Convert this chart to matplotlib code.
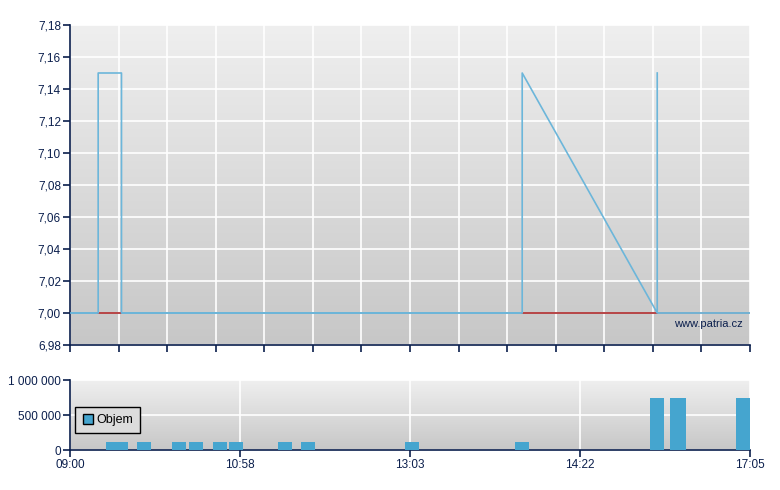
import matplotlib.pyplot as plt
import numpy as np
from matplotlib.lines import Line2D

plt.rcParams["font.family"] = ["Liberation Sans", "DejaVu Sans"]

# x is in "slot" units: 14 equal slots between 09:00 and 17:05
price_x = [0.0, 0.58, 0.58, 1.06, 1.06, 9.31, 9.31, 12.09, 12.09]
price_y = [7.00, 7.00, 7.15, 7.15, 7.00, 7.00, 7.15, 7.00, 7.15]
ref_price = 7.00
low_segments = [(0.58, 1.06), (9.31, 12.09)]

vol_x = [0.885, 1.05, 1.524, 2.244, 2.594, 3.088, 3.418, 4.426, 4.90,
         7.041, 9.306, 12.085, 12.497, 12.538, 13.856]
vol_y = [120000, 120000, 120000, 120000, 120000, 120000, 120000, 120000, 120000,
         120000, 120000, 740000, 740000, 740000, 740000]

price_ticks = [6.98, 7.00, 7.02, 7.04, 7.06, 7.08, 7.10, 7.12, 7.14, 7.16, 7.18]
vol_ticks = [0, 500000, 1000000]
vol_tick_labels = ["0", "500 000", "1 000 000"]
time_ticks = [0, 3.5, 7, 10.5, 14]
time_labels = ["09:00", "10:58", "13:03", "14:22", "17:05"]

NAVY = "#0b1f4d"
GRAD = np.linspace(0, 1, 256).reshape(-1, 1)


def style_axes(ax):
    ax.imshow(GRAD, cmap=plt.matplotlib.colors.LinearSegmentedColormap.from_list(
        "bg", ["#efefef", "#c7c7c7"]), aspect="auto", extent=(0, 1, 0, 1),
        transform=ax.transAxes, zorder=0)
    for side in ("top", "right"):
        ax.spines[side].set_visible(False)
    for side in ("left", "bottom"):
        ax.spines[side].set_color(NAVY)
        ax.spines[side].set_linewidth(1.2)
    ax.tick_params(colors=NAVY, labelcolor=NAVY, labelsize=8.5, length=5,
                   width=1.2, direction="out", pad=1.5)
    ax.set_xlim(0, 14)


fig = plt.figure(figsize=(7.8, 4.9), dpi=100)
ax = fig.add_axes([70 / 780, 1 - 345 / 490, 680 / 780, 320 / 490])
axv = fig.add_axes([70 / 780, 1 - 450 / 490, 680 / 780, 70 / 490])

# price panel
style_axes(ax)
ax.set_ylim(6.98, 7.18)
ax.set_yticks(price_ticks)
ax.set_yticklabels([f"{v:.2f}".replace(".", ",") for v in price_ticks])
ax.set_xticks(np.arange(0, 15))
ax.set_xticklabels([])
ax.grid(True, color="white", linewidth=1.2, zorder=1)
ax.set_axisbelow(True)
ax.axhline(ref_price, color="#4d9cc6", linewidth=1.1, zorder=2)
for x0, x1 in low_segments:
    ax.plot([x0, x1], [ref_price, ref_price], color="#cc2a22", linewidth=1.1, zorder=3)
ax.plot(price_x, price_y, color="#6cb6da", linewidth=1.2, zorder=4)
ax.text(0.99, 0.065, "www.patria.cz", transform=ax.transAxes, ha="right",
        va="center", fontsize=8, color=NAVY, zorder=5)

# volume panel
style_axes(axv)
axv.set_ylim(0, 1000000)
axv.set_yticks(vol_ticks)
axv.set_yticklabels(vol_tick_labels)
axv.set_xticks(time_ticks)
axv.set_xticklabels(time_labels)
axv.grid(True, color="white", linewidth=1.2, zorder=1)
axv.set_axisbelow(True)
axv.bar(vol_x, vol_y, width=0.288, color="#45a5cf", zorder=3)
handle = Line2D([], [], marker="s", linestyle="none", markersize=7,
                markerfacecolor="#45a5cf", markeredgecolor="black", markeredgewidth=1)
leg = axv.legend([handle], ["Objem"], loc="lower left", bbox_to_anchor=(0.007, 0.24),
                 fontsize=9, frameon=True, fancybox=False, handletextpad=0.2,
                 borderpad=0.55, handlelength=1.0, borderaxespad=0)
leg.get_frame().set_edgecolor("black")
leg.get_frame().set_facecolor("#dcdcdc")
leg.get_frame().set_alpha(1)
leg.get_frame().set_linewidth(1)

fig.savefig("out.png", dpi=100)
